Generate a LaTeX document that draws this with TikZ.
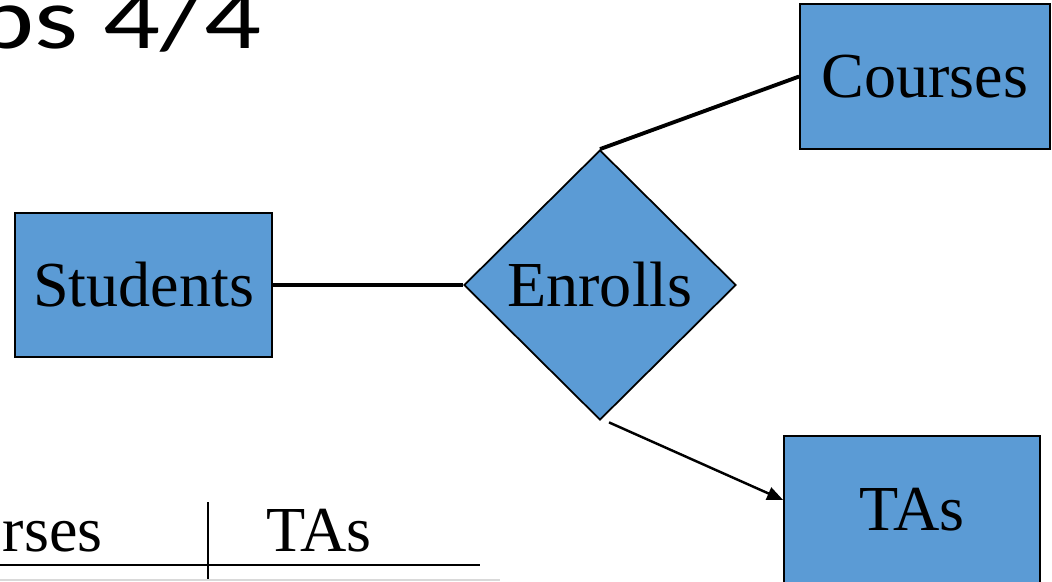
\documentclass[tikz,border=0pt]{standalone}
\usepackage{fontspec}
\setmainfont{Liberation Serif}
\newfontfamily\titlefont{Carlito}
\usepackage{tikz}
\usetikzlibrary{positioning}
\usetikzlibrary{calc}
\usetikzlibrary{arrows.meta}
\usetikzlibrary{shapes.geometric}
\definecolor{erblue}{HTML}{5B9BD5}

\begin{document}
\begin{tikzpicture}[font=\fontsize{36.5}{40}\selectfont]
		\clip (0,0) rectangle (21.04,11.62);
		\node[anchor=base west, inner sep=0, xscale=1.28] (title) at (-0.49,10.66) {\titlefont\fontsize{50}{54}\selectfont ps 4/4};
		\begin{scope}[every node/.style={draw, line width=1pt, fill=erblue, inner sep=0}]
			\node[minimum width=5.14cm, minimum height=2.88cm] (students) at (2.87,5.92) {Students};
			\node[diamond, minimum width=5.44cm, minimum height=5.40cm] (enrolls) at (12.0,5.92) {Enrolls};
			\node[minimum width=5.0cm, minimum height=2.9cm] (courses) at (18.5,10.09) {Courses};
			\node[minimum width=5.12cm, minimum height=2.96cm] (tas) at (18.24,1.42) {TAs};
		\end{scope}
		\coordinate (arrstart) at ($(enrolls.south)+(0.18,-0.03)$);
		\coordinate (tasin) at ($(tas.west)+(0,0.2)$);
		\draw[line width=2.2pt] (students) -- (enrolls);
		\draw[line width=2.2pt] (enrolls.north) -- (courses.west);
		\draw[line width=1.4pt, -{Triangle[length=0.32cm, width=0.26cm]}] (arrstart) -- (tasin);
		% table at the bottom
		\node[anchor=base east, inner sep=0] (rses) at (2.06,0.60) {rses};
		\node[anchor=base, inner sep=0] (tastab) at (6.38,0.60) {TAs};
		\draw[line width=1.3pt] (0,0.32) -- (9.6,0.32);
		\draw[line width=1pt] (4.16,1.58) -- (4.16,0);
		\draw[line width=0.8pt, black!15] (0,0.02) -- (10,0.02);
	\end{tikzpicture}
\end{document}
